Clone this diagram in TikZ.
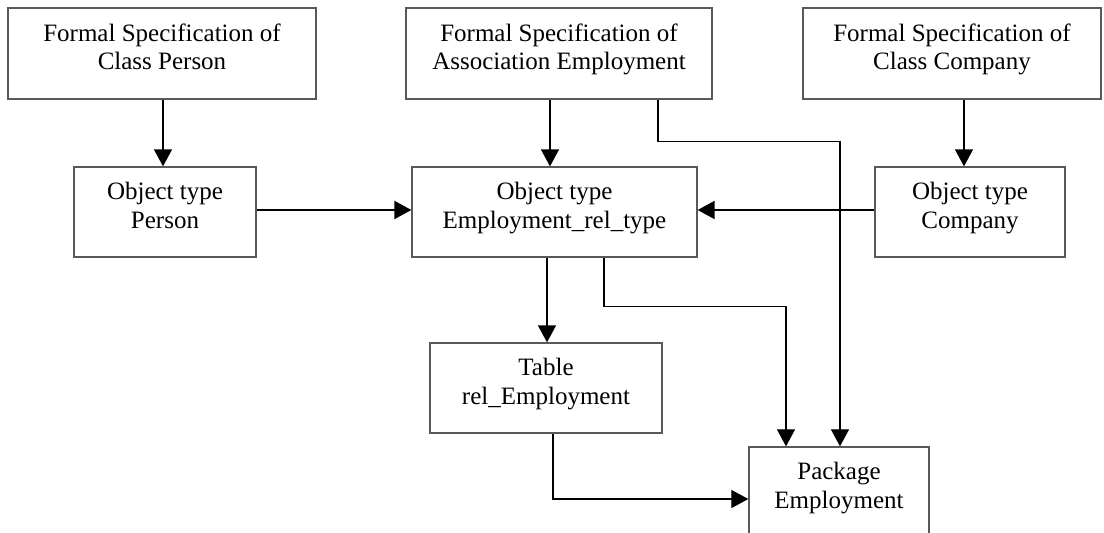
\documentclass[tikz,border=0pt]{standalone}
\usepackage{fontspec}
\setmainfont{Liberation Serif}
\usetikzlibrary{arrows.meta}
% two centred lines, with extra depth below so the text sits a little high
\newcommand\twolines[2]{\strut#1\\\strut#2\rule[-15.5pt]{0pt}{0pt}}
\begin{document}
\begin{tikzpicture}[x=1pt,y=-1pt,
  box/.style={draw=black!65, line width=1.3pt, inner sep=0pt, align=center,
              font=\fontsize{25}{28.5}\selectfont},
  tip/.style={-{Triangle[length=17pt,width=18pt]}},
  link/.style={tip, line width=1.5pt},
  flow/.style={tip, line width=2pt},
  route/.style={tip, line width=1.2pt},
]
\useasboundingbox (0,0) rectangle (1104,533);

% specifications
\node[box, minimum width=308pt, minimum height=91pt] (fp) at (162,53.5)
  {\twolines{Formal Specification of}{Class Person}};
\node[box, minimum width=306pt, minimum height=91pt] (fa) at (559,53.5)
  {\twolines{Formal Specification of}{Association Employment}};
\node[box, minimum width=298pt, minimum height=91pt] (fc) at (952,53.5)
  {\twolines{Formal Specification of}{Class Company}};

% object types
\node[box, minimum width=182pt, minimum height=90pt] (op) at (165,212)
  {\twolines{Object type}{Person}};
\node[box, minimum width=285pt, minimum height=90pt] (oe) at (554.5,212)
  {\twolines{Object type}{Employment\_rel\_type}};
\node[box, minimum width=190pt, minimum height=90pt] (oc) at (970,212)
  {\twolines{Object type}{Company}};

% table and package
\node[box, minimum width=232pt, minimum height=90pt] (tr) at (546,388)
  {\twolines{Table}{rel\_Employment}};
\node[box, minimum width=180pt, minimum height=90pt] (pk) at (839,492)
  {\twolines{Package}{Employment}};

% connectors
\draw[link] ([xshift=1pt]fp.south) -- ([xshift=-2pt]op.north);
\draw[link] ([xshift=-9pt]fa.south) -- ([xshift=-4.5pt]oe.north);
\draw[link] ([xshift=12pt]fc.south) -- ([xshift=-6pt]oc.north);
\draw[flow] ([yshift=2pt]op.east) -- ([yshift=2pt]oe.west);
\draw[flow] ([yshift=2pt]oc.west) -- ([yshift=2pt]oe.east);
\draw[link] ([xshift=-7.5pt]oe.south) -- ([xshift=1pt]tr.north);
\draw[route] ([xshift=49.5pt]oe.south) -- ++(0,49) -| ([xshift=-53pt]pk.north);
\draw[route] ([xshift=99pt]fa.south) -- ++(0,42) -| ([xshift=1pt]pk.north);
\draw[route] ([xshift=7pt]tr.south) |- ([yshift=-7pt]pk.west);
\end{tikzpicture}
\end{document}
